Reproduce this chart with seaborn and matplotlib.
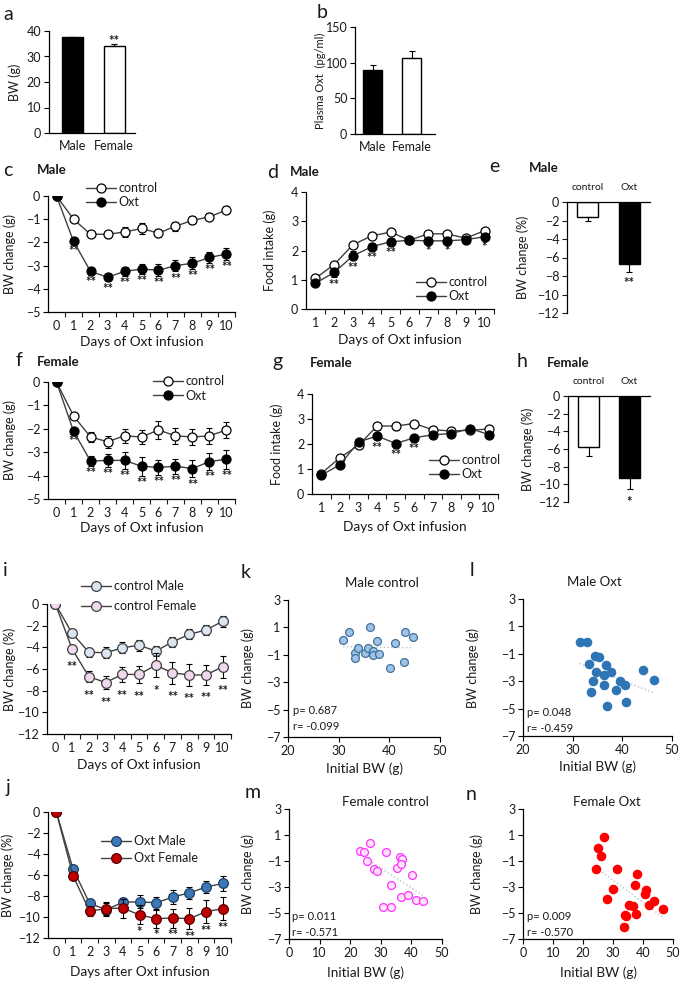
import numpy as np
import pandas as pd
import matplotlib
matplotlib.use('Agg')
import matplotlib.pyplot as plt
from matplotlib.lines import Line2D
import seaborn as sns

# ---------------- data ----------------
sex = ['Male', 'Female']
bw = [37.5, 34.3]
bw_err = [0.3, 0.6]
plasma_oxt = [90, 107]
plasma_oxt_err = [7, 10]

groups = ['control', 'Oxt']

days = list(range(0, 11))
days_food = list(range(1, 11))

# c: male BW change (g)
c_ctrl = [0, -1.0, -1.65, -1.65, -1.55, -1.4, -1.6, -1.3, -1.05, -0.9, -0.6]
c_ctrl_err = [0, 0.08, 0.12, 0.15, 0.22, 0.22, 0.18, 0.2, 0.17, 0.15, 0.15]
c_oxt = [0, -1.95, -3.25, -3.5, -3.25, -3.15, -3.2, -3.0, -2.9, -2.65, -2.5]
c_oxt_err = [0, 0.12, 0.15, 0.18, 0.18, 0.22, 0.25, 0.25, 0.25, 0.22, 0.25]
c_stars = ['', '**', '**', '**', '**', '**', '**', '**', '**', '**', '**']

# d: male food intake (g)
d_ctrl = [1.05, 1.52, 2.2, 2.5, 2.63, 2.35, 2.57, 2.57, 2.42, 2.68]
d_ctrl_err = [0.05, 0.06, 0.07, 0.07, 0.07, 0.07, 0.06, 0.06, 0.06, 0.06]
d_oxt = [0.88, 1.25, 1.82, 2.13, 2.3, 2.35, 2.33, 2.33, 2.37, 2.47]
d_oxt_err = [0.07, 0.15, 0.15, 0.12, 0.12, 0.08, 0.08, 0.08, 0.08, 0.08]
d_stars = ['', '**', '**', '**', '**', '', '*', '*', '', '*']

# e: male BW change (%)
e_vals = [-1.6, -6.7]
e_err = [0.5, 0.85]

# f: female BW change (g)
f_ctrl = [0, -1.45, -2.35, -2.55, -2.3, -2.35, -2.05, -2.3, -2.35, -2.3, -2.05]
f_ctrl_err = [0, 0.1, 0.22, 0.25, 0.3, 0.3, 0.38, 0.35, 0.35, 0.35, 0.35]
f_oxt = [0, -2.1, -3.38, -3.35, -3.35, -3.6, -3.65, -3.6, -3.7, -3.4, -3.3]
f_oxt_err = [0, 0.12, 0.2, 0.28, 0.35, 0.4, 0.33, 0.33, 0.38, 0.35, 0.4]
f_stars = ['', '**', '**', '**', '**', '**', '**', '**', '**', '**', '**']

# g: female food intake (g)
g_ctrl = [0.82, 1.45, 1.95, 2.72, 2.72, 2.82, 2.57, 2.52, 2.55, 2.6]
g_ctrl_err = [0.06, 0.12, 0.1, 0.14, 0.14, 0.1, 0.07, 0.07, 0.12, 0.1]
g_oxt = [0.75, 1.17, 2.08, 2.32, 2.02, 2.25, 2.37, 2.42, 2.62, 2.38]
g_oxt_err = [0.06, 0.07, 0.08, 0.08, 0.07, 0.07, 0.07, 0.07, 0.1, 0.08]
g_stars = ['', '', '', '**', '**', '**', '', '', '', '']

# h: female BW change (%)
h_vals = [-5.8, -9.3]
h_err = [1.0, 1.2]

# i: control male vs female BW change (%)
i_male = [0, -2.7, -4.45, -4.5, -4.05, -3.8, -4.35, -3.5, -2.8, -2.4, -1.6]
i_male_err = [0, 0.35, 0.4, 0.5, 0.5, 0.5, 0.45, 0.5, 0.45, 0.45, 0.5]
i_female = [0, -4.15, -6.7, -7.25, -6.5, -6.5, -5.65, -6.35, -6.55, -6.55, -5.8]
i_female_err = [0, 0.4, 0.5, 0.6, 0.7, 0.8, 1.1, 1.0, 1.0, 0.9, 1.0]
i_stars = ['', '**', '**', '**', '**', '**', '*', '**', '**', '**', '**']

# j: Oxt male vs female BW change (%)
j_male = [0, -5.4, -8.7, -9.3, -8.6, -8.55, -8.65, -8.1, -7.7, -7.15, -6.8]
j_male_err = [0, 0.3, 0.4, 0.6, 0.4, 0.6, 0.6, 0.7, 0.6, 0.6, 0.7]
j_female = [0, -6.05, -9.45, -9.2, -9.15, -9.8, -10.15, -10.1, -10.15, -9.5, -9.2]
j_female_err = [0, 0.3, 0.5, 0.6, 0.9, 0.9, 0.85, 0.9, 1.0, 1.1, 1.1]
j_stars = ['', '', '', '', '', '*', '*', '**', '**', '**', '**']

# k-n: initial BW vs BW change (g)
k_x = [30.9, 32.1, 33.2, 33.2, 33.9, 35.2, 35.8, 36.2, 36.7, 36.8, 37.5, 38.0, 40.1, 41.1, 42.8, 43.1, 44.7]
k_y = [0.08, 0.63, -0.9, -1.24, -0.5, -0.9, -0.5, 1.05, -0.7, -1.05, 0.03, -0.95, -1.93, -0.17, -1.56, 0.7, 0.27]
l_x = [31.4, 32.9, 33.2, 34.4, 35.4, 34.7, 34.0, 33.6, 36.8, 36.3, 37.8, 36.3, 38.8, 37.0, 39.5, 40.6, 40.8, 44.2, 46.4]
l_y = [-0.16, -0.16, -1.77, -1.15, -1.25, -2.34, -3.0, -3.77, -1.81, -2.55, -2.3, -3.3, -3.67, -4.78, -2.96, -3.26, -4.5, -2.19, -2.88]
m_x = [23.2, 24.6, 26.4, 25.6, 27.9, 28.9, 31.6, 36.3, 37.0, 35.2, 36.6, 40.3, 33.2, 36.6, 38.8, 30.8, 33.3, 41.5, 43.7]
m_y = [-0.21, -0.29, 0.36, -0.98, -1.58, -1.76, -0.34, -0.73, -0.86, -1.5, -1.24, -2.09, -2.87, -3.77, -3.64, -4.54, -4.54, -4.03, -4.08]
n_x = [27.1, 24.9, 26.0, 24.4, 31.4, 37.9, 28.1, 30.0, 37.2, 41.0, 40.8, 43.8, 42.1, 46.5, 35.4, 36.5, 34.0, 34.3, 37.6, 33.7]
n_y = [0.82, -0.03, -0.62, -1.58, -1.65, -2.02, -3.9, -3.18, -2.87, -3.25, -3.5, -4.08, -4.36, -4.67, -4.41, -4.49, -5.19, -5.26, -5.06, -6.04]

# ---------------- style ----------------
sns.set_style('ticks')
plt.rcParams['font.family'] = ['Lato', 'DejaVu Sans']
plt.rcParams['text.color'] = '#1a1a1a'
plt.rcParams['axes.labelcolor'] = '#1a1a1a'
plt.rcParams['xtick.color'] = '#1a1a1a'
plt.rcParams['ytick.color'] = '#1a1a1a'

W, H = 685, 984
fig = plt.figure(figsize=(W / 100, H / 100), dpi=100)

TICK = 9
LAB = 9
STAR = 9.5
LINE = '#404040'


def add_ax(x0, y0, x1, y1):
    # pixel box: left, top, right, bottom
    return fig.add_axes([x0 / W, 1 - y1 / H, (x1 - x0) / W, (y1 - y0) / H])


def ftext(x, y, s, **kw):
    kw.setdefault('va', 'center')
    fig.text(x / W, 1 - y / H, s, **kw)


def base_style(ax):
    sns.despine(ax=ax)
    for sp in ax.spines.values():
        sp.set_linewidth(0.9)
        sp.set_color('black')
    ax.tick_params(labelsize=TICK, length=3.5, width=0.8, pad=2, color='black')


def set_labels(ax, xlabel, ylabel, ylab_x, xlab_y=None, ysize=LAB):
    bb = ax.get_position()
    ax.set_ylabel(ylabel, fontsize=ysize)
    ax.yaxis.label.set_verticalalignment('center')
    ax.yaxis.set_label_coords((ylab_x / W - bb.x0) / bb.width, 0.5)
    if xlabel:
        ax.set_xlabel(xlabel, fontsize=LAB + 0.8)
        ax.xaxis.label.set_verticalalignment('center')
        ax.xaxis.set_label_coords(0.5, ((1 - xlab_y / H) - bb.y0) / bb.height)
    else:
        ax.set_xlabel('')


def series(ax, x, y, err, fc, ec, ms=6.5, z=3):
    ax.errorbar(x, y, yerr=err, fmt='none', ecolor='black', elinewidth=0.8,
                capsize=2.5, capthick=0.8, zorder=z - 1)
    sns.lineplot(x=x, y=y, ax=ax, color=LINE, lw=1, marker='o', markersize=ms,
                 markerfacecolor=fc, markeredgecolor=ec, markeredgewidth=0.9,
                 zorder=z, legend=False)


def stars(ax, x, y, err, marks, gap):
    for xi, yi, ei, m in zip(x, y, err, marks):
        if m:
            ax.text(xi, yi - ei - gap, m, ha='center', va='top', fontsize=STAR,
                    fontweight='bold')


def time_axis(ax, x, ylim, yticks, first):
    ax.set_xlim(first - 0.5, x[-1] + 0.5)
    ax.set_ylim(*ylim)
    ax.set_xticks(x)
    ax.set_xticks(np.arange(first + 0.5, x[-1] + 0.6, 1), minor=True)
    ax.tick_params(axis='x', which='major', length=0, pad=6)
    ax.tick_params(axis='x', which='minor', length=3.5, width=0.8)
    ax.set_yticks(yticks)


def legend_at(ax, handles, labels, x, y, spacing=0.2):
    ax.legend(handles, labels, loc='upper left', bbox_to_anchor=(x / W, 1 - y / H),
              bbox_transform=fig.transFigure, frameon=False, borderpad=0,
              borderaxespad=0, handlelength=2.4, handletextpad=0.2,
              labelspacing=spacing, fontsize=9)


def handle(fc, ec, ms=6.5):
    return Line2D([], [], color=LINE, lw=1, marker='o', markersize=ms,
                  markerfacecolor=fc, markeredgecolor=ec, markeredgewidth=0.9)


def bar_panel(ax, cats, vals, err, colors):
    sns.barplot(x=cats, y=vals, hue=cats, palette=colors, edgecolor='black',
                linewidth=1, width=0.5, errorbar=None, legend=False, ax=ax)
    ax.errorbar(range(len(cats)), vals, yerr=err, fmt='none', ecolor='black',
                elinewidth=0.8, capsize=2.5, capthick=0.8)


def neg_bar_style(ax):
    sns.despine(ax=ax, top=False, bottom=True)
    for sp in ax.spines.values():
        sp.set_linewidth(0.9)
        sp.set_color('black')
    ax.xaxis.tick_top()
    ax.tick_params(axis='x', length=0, labelsize=7.5, pad=7)
    ax.tick_params(axis='y', labelsize=TICK, length=3.5, width=0.8, pad=2)
    ax.set_xlim(-0.5, 1.5)
    ax.set_ylim(-12, 0)
    ax.set_yticks(range(-12, 1, 2))


# ---------------- a ----------------
ax = add_ax(49, 31, 135, 133)
bar_panel(ax, sex, bw, [[0, 0], bw_err], ['black', 'white'])
base_style(ax)
ax.set_xlim(-0.55, 1.5)
ax.set_ylim(0, 40)
ax.set_yticks([0, 10, 20, 30, 40])
ax.tick_params(axis='x', length=0, pad=5)
ax.text(1, 36.2, '**', ha='center', va='center', fontsize=STAR, fontweight='bold')
set_labels(ax, None, 'BW (g)', 15)

# ---------------- b ----------------
ax = add_ax(355, 27, 435, 134)
bar_panel(ax, sex, plasma_oxt, [[0, 0], plasma_oxt_err], ['black', 'white'])
base_style(ax)
ax.set_xlim(-0.45, 1.6)
ax.set_ylim(0, 150)
ax.set_yticks([0, 50, 100, 150])
ax.tick_params(axis='x', length=0, pad=5)
set_labels(ax, None, 'Plasma Oxt  (pg/ml)', 320, ysize=8)

# ---------------- c ----------------
ax = add_ax(48, 196, 235, 312)
series(ax, days, c_ctrl, c_ctrl_err, 'white', 'black')
series(ax, days, c_oxt, c_oxt_err, 'black', 'black', z=5)
stars(ax, days, c_oxt, c_oxt_err, c_stars, 0.05)
base_style(ax)
time_axis(ax, days, (-5, 0), range(-5, 1), 0)
set_labels(ax, 'Days of Oxt infusion', 'BW change (g)', 10, 342)
legend_at(ax, [handle('white', 'black'), handle('black', 'black')], groups, 86, 182)

# ---------------- d ----------------
ax = add_ax(306, 192, 494, 309)
series(ax, days_food, d_ctrl, d_ctrl_err, 'white', 'black')
series(ax, days_food, d_oxt, d_oxt_err, 'black', 'black', z=5)
stars(ax, days_food, d_oxt, d_oxt_err, d_stars, 0.06)
base_style(ax)
time_axis(ax, days_food, (0, 4), range(0, 5), 1)
set_labels(ax, 'Days of Oxt infusion', 'Food intake (g)', 270, 340)
legend_at(ax, [handle('white', 'black'), handle('black', 'black')], groups, 416, 276)

# ---------------- e ----------------
ax = add_ax(567, 202, 650, 313)
bar_panel(ax, groups, e_vals, [e_err, [0, 0]], ['white', 'black'])
neg_bar_style(ax)
ax.text(1, e_vals[1] - e_err[1] - 0.55, '**', ha='center', va='top', fontsize=STAR,
        fontweight='bold')
set_labels(ax, None, 'BW change (%)', 523)

# ---------------- f ----------------
ax = add_ax(48, 382, 235, 499)
series(ax, days, f_ctrl, f_ctrl_err, 'white', 'black')
series(ax, days, f_oxt, f_oxt_err, 'black', 'black', z=5)
stars(ax, days, f_oxt, f_oxt_err, f_stars, 0.05)
base_style(ax)
time_axis(ax, days, (-5, 0), range(-5, 1), 0)
set_labels(ax, 'Days of Oxt infusion', 'BW change (g)', 10, 528)
legend_at(ax, [handle('white', 'black'), handle('black', 'black')], groups, 153, 375)

# ---------------- g ----------------
ax = add_ax(312, 394, 498, 494)
series(ax, days_food, g_ctrl, g_ctrl_err, 'white', 'black')
series(ax, days_food, g_oxt, g_oxt_err, 'black', 'black', z=5)
stars(ax, days_food, g_oxt, g_oxt_err, g_stars, 0.15)
base_style(ax)
time_axis(ax, days_food, (0, 4), range(0, 5), 1)
set_labels(ax, 'Days of Oxt infusion', 'Food intake (g)', 277, 527)
legend_at(ax, [handle('white', 'black'), handle('black', 'black')], groups, 429, 454)

# ---------------- h ----------------
ax = add_ax(568, 396, 650, 502)
bar_panel(ax, groups, h_vals, [h_err, [0, 0]], ['white', 'black'])
neg_bar_style(ax)
ax.text(1, h_vals[1] - h_err[1] - 0.8, '*', ha='center', va='top', fontsize=STAR,
        fontweight='bold')
set_labels(ax, None, 'BW change (%)', 528)

# ---------------- i ----------------
ax = add_ax(47, 604, 231, 734)
series(ax, days, i_male, i_male_err, '#dce6f2', '#404040', ms=7)
series(ax, days, i_female, i_female_err, '#f0d8ee', '#404040', ms=7, z=5)
stars(ax, days, i_female, i_female_err, i_stars, 0.7)
base_style(ax)
time_axis(ax, days, (-12, 0), range(-12, 1, 2), 0)
set_labels(ax, 'Days of Oxt infusion', 'BW change (%)', 10, 765)
legend_at(ax, [handle('#dce6f2', '#404040', 7), handle('#f0d8ee', '#404040', 7)],
          ['control Male', 'control Female'], 81, 580, spacing=0.65)

# ---------------- j ----------------
ax = add_ax(48, 812, 231, 938)
series(ax, days, j_male, j_male_err, '#3b78b5', '#1f3f66', ms=7)
series(ax, days, j_female, j_female_err, '#c00000', '#5a0000', ms=7, z=5)
stars(ax, days, j_female, j_female_err, j_stars, 0.15)
base_style(ax)
time_axis(ax, days, (-12, 0), range(-12, 1, 2), 0)
set_labels(ax, 'Days after Oxt infusion', 'BW change (%)', 8, 972)
legend_at(ax, [handle('#3b78b5', '#1f3f66', 7), handle('#c00000', '#5a0000', 7)],
          ['Oxt Male', 'Oxt Female'], 101, 835, spacing=0.4)


# ---------------- scatter panels ----------------
def scatter_panel(box, x, y, xlim, xticks, fc, ec, size, title, title_xy, p, r, txt_xy, ylab_x, xlab_y):
    ax = add_ax(*box)
    sns.regplot(x=x, y=y, ax=ax, scatter=False, ci=None, truncate=True,
                line_kws=dict(color='#bfbfbf', lw=1, ls=':'))
    sns.scatterplot(x=x, y=y, ax=ax, s=size, color=fc, edgecolor=ec, linewidth=0.9,
                    zorder=3, legend=False)
    base_style(ax)
    ax.set_xlim(*xlim)
    ax.set_ylim(-7, 3)
    ax.set_xticks(xticks)
    ax.set_yticks([3, 1, -1, -3, -5, -7])
    set_labels(ax, 'Initial BW (g)', 'BW change (g)', ylab_x, xlab_y)
    ftext(title_xy[0], title_xy[1], title, ha='center', fontsize=9.5)
    ftext(txt_xy[0], txt_xy[1], f'p= {p}', ha='left', fontsize=8)
    ftext(txt_xy[0], txt_xy[1] + 15, f'r= {r}', ha='left', fontsize=8)
    return ax


scatter_panel((288, 600, 440, 737), k_x, k_y, (20, 50), [20, 30, 40, 50],
              '#9dc3e6', '#41719c', 32, 'Male control', (382, 583),
              '0.687', '-0.099', (293, 711), 248, 769)
scatter_panel((523, 599, 672, 736), l_x, l_y, (20, 50), [20, 30, 40, 50],
              '#2e75b6', '#2e75b6', 36, 'Male Oxt', (594, 582),
              '0.048', '-0.459', (527, 713), 473, 767)
scatter_panel((289, 809, 442, 939), m_x, m_y, (0, 50), range(0, 51, 10),
              '#fde4fd', '#ff33ff', 32, 'Female control', (385, 802),
              '0.011', '-0.571', (292, 917), 248, 973)
scatter_panel((523, 809, 673, 939), n_x, n_y, (0, 50), range(0, 51, 10),
              '#ff0000', '#ff0000', 36, 'Female Oxt', (607, 802),
              '0.009', '-0.570', (527, 917), 477, 973)

# ---------------- panel letters and titles ----------------
for letter, x, y in [('a', 3, 15), ('b', 317, 13), ('c', 3, 170), ('d', 267, 172),
                     ('e', 489, 167), ('f', 16, 360), ('g', 272, 362), ('h', 517, 361),
                     ('i', 3, 570), ('k', 241, 572), ('l', 470, 570), ('j', 6, 787),
                     ('m', 245, 792), ('n', 466, 795)]:
    ftext(x, y, letter, ha='left', fontsize=14)

for s, x, y in [('Male', 37, 170), ('Male', 290, 172), ('Male', 529, 168),
                ('Female', 37, 362), ('Female', 310, 363), ('Female', 547, 363)]:
    ftext(x, y, s, ha='left', fontsize=9.5, fontweight='bold')

fig.savefig('out.png', dpi=100)
